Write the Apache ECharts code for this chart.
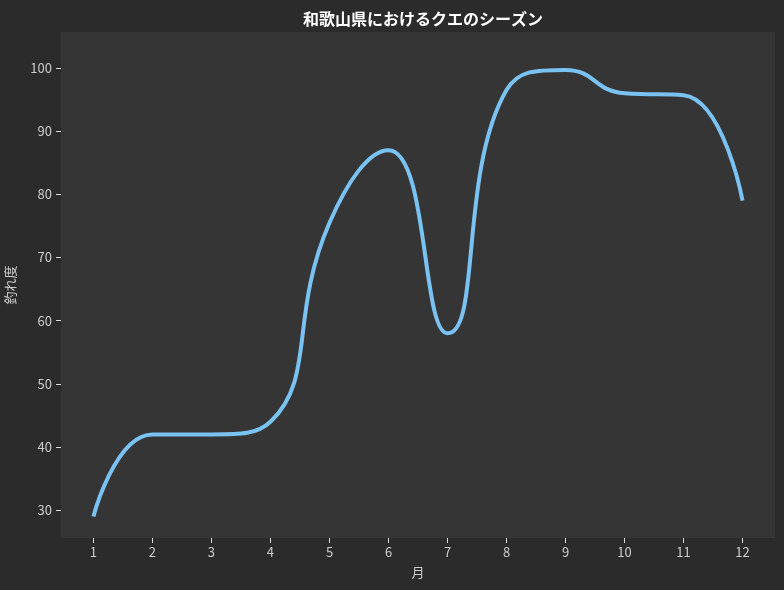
<!DOCTYPE html>
<html><head><meta charset="utf-8">
<script src="https://cdn.jsdelivr.net/npm/echarts@6/dist/echarts.min.js"></script>
<style>html,body{margin:0;padding:0;background:#2b2b2b}#c{width:784px;height:590px}</style>
</head><body><div id="c"></div>
<script>
const months = [1,2,3,4,5,6,7,8,9,10,11,12];
const catchRate = [29, 42, 42, 44, 75.5, 87, 58, 96.5, 99.7, 96, 95.7, 79];
const xTicks = [1,2,3,4,5,6,7,8,9,10,11,12];
const yTicks = [30,40,50,60,70,80,90,100];
const titleText = '和歌山県におけるクエのシーズン';
const xName = '月';
const yName = '釣れ度';

const font = '"Noto Sans CJK JP", "Noto Sans", sans-serif';
const chart = echarts.init(document.getElementById('c'));
chart.setOption({
  backgroundColor: '#2b2b2b',
  animation: false,
  title: {
    text: titleText, left: 418, top: 6, textAlign: 'center',
    textStyle: {color: '#ffffff', fontSize: 16, fontWeight: 'bold', fontFamily: font}
  },
  grid: {left: 61, right: 9, top: 32, bottom: 52, show: true, backgroundColor: '#353535', borderWidth: 0,
         containLabel: false, outerBoundsMode: 'none'},
  xAxis: {
    type: 'value', min: 0.45, max: 12.55,
    name: xName, nameLocation: 'middle', nameGap: 28,
    nameTextStyle: {color: '#cccccc', fontSize: 13, fontFamily: font},
    axisLine: {show: false},
    axisTick: {show: true, length: 5, customValues: xTicks, lineStyle: {color: '#dddddd'}},
    axisLabel: {customValues: xTicks, color: '#cccccc', fontSize: 13, margin: 8, fontFamily: font},
    splitLine: {show: false}
  },
  yAxis: {
    type: 'value', min: 25.6, max: 105.7,
    name: yName, nameLocation: 'middle', nameGap: 44,
    nameTextStyle: {color: '#cccccc', fontSize: 13, fontFamily: font},
    axisLine: {show: false},
    axisTick: {show: true, length: 5, customValues: yTicks, lineStyle: {color: '#dddddd'}},
    axisLabel: {customValues: yTicks, color: '#cccccc', fontSize: 13, margin: 9, fontFamily: font},
    splitLine: {show: false}
  },
  series: [{
    type: 'line',
    data: months.map((m, i) => [m, catchRate[i]]),
    smooth: 0.5,
    showSymbol: false,
    lineStyle: {color: '#79c2f2', width: 4}
  }]
});
</script></body></html>
